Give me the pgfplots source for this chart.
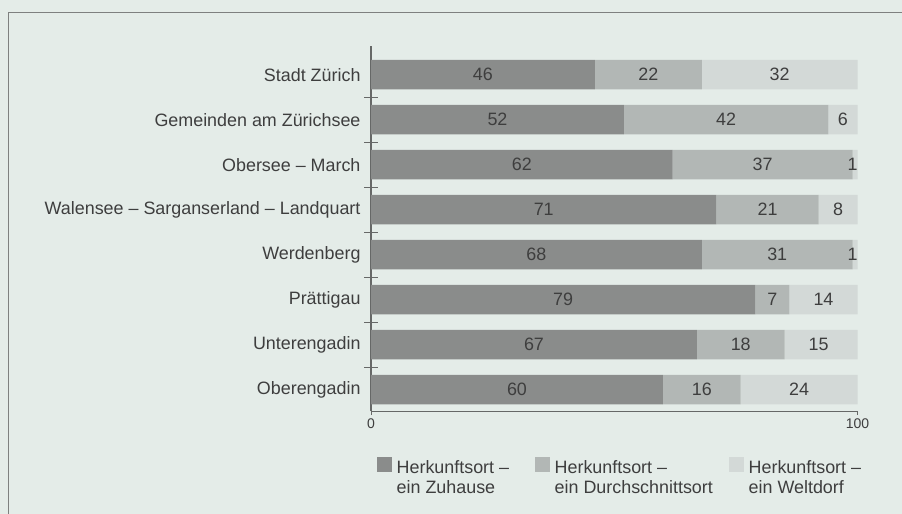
\documentclass[border=0pt]{standalone}
\usepackage{fontspec}
\setmainfont{Liberation Sans}
\usepackage{pgfplots}
\pgfplotsset{compat=1.18}
\definecolor{bgc}{HTML}{E4ECE8}
\definecolor{framec}{HTML}{7E807F}
\definecolor{darkbar}{HTML}{8A8C8B}
\definecolor{midbar}{HTML}{B2B7B5}
\definecolor{lightbar}{HTML}{D3D9D7}
\definecolor{txt}{HTML}{3E3E3E}
\definecolor{axc}{HTML}{666867}
\begin{document}
\begin{tikzpicture}
\fill[bgc] (0,0) rectangle (902bp,-514bp);
\useasboundingbox (0,0) rectangle (902bp,-514bp);
\draw[framec, line width=1.2bp] (8.5bp,-514bp) -- (8.5bp,-12.5bp) -- (902bp,-12.5bp);
\begin{axis}[
  at={(371bp,-411bp)}, anchor=south west,
  scale only axis, width=486.5bp, height=365bp,
  xbar stacked, bar width=29.5bp,
  xmin=0, xmax=100, ymin=-0.478, ymax=7.638,
  axis x line*=bottom, axis y line*=left,
  x axis line style={-, draw=axc, line width=0.9bp},
  y axis line style={-, draw=axc, line width=1.1bp},
  tick align=outside, major tick length=4bp,
  xtick={0,100}, xticklabels={0,100},
  xtick style={draw=axc, line width=0.9bp},
  xticklabel style={font=\fontsize{14bp}{16bp}\selectfont, text=txt},
  ytick={0,1,2,3,4,5,6,7},
  yticklabels={Oberengadin, Unterengadin, Prättigau, Werdenberg, Walensee – Sarganserland – Landquart, Obersee – March, Gemeinden am Zürichsee, Stadt Zürich},
  ytick style={draw=none},
  yticklabel style={font=\fontsize{17.9bp}{20bp}\selectfont, text=txt, xshift=-3bp},
  /pgf/number format/assume math mode=true,
  legend columns=3,
  legend style={at={(0.0113,-0.126)}, anchor=north west, draw=none, fill=none, inner sep=0pt, column sep=0pt,
    /tikz/every odd column/.append style={column sep=5bp},
    cells={anchor=base west}, nodes={inner sep=0pt, text=txt}},
  legend image code/.code={\fill[#1, draw=none] (0bp,1bp) rectangle (15bp,16bp);},
]
\addplot[fill=darkbar, draw=none] coordinates {(60,0) (67,1) (79,2) (68,3) (71,4) (62,5) (52,6) (46,7)};
\addlegendentry{\parbox[t]{138bp}{\fontsize{17.9bp}{20bp}\selectfont Herkunftsort –\\ein Zuhause}}
\addplot[fill=midbar, draw=none] coordinates {(16,0) (18,1) (7,2) (31,3) (21,4) (37,5) (42,6) (22,7)};
\addlegendentry{\parbox[t]{174bp}{\fontsize{17.9bp}{20bp}\selectfont Herkunftsort –\\ein Durchschnittsort}}
\addplot[fill=lightbar, draw=none] coordinates {(24,0) (15,1) (14,2) (1,3) (8,4) (1,5) (6,6) (32,7)};
\addlegendentry{\parbox[t]{150bp}{\fontsize{17.9bp}{20bp}\selectfont Herkunftsort –\\ein Weltdorf}}
\end{axis}
\begin{axis}[
  at={(371bp,-411bp)}, anchor=south west,
  scale only axis, width=486.5bp, height=365bp,
  xmin=0, xmax=100, ymin=-0.478, ymax=7.638,
  hide x axis,
  axis y line*=left, y axis line style={draw=none},
  ytick={0.5,1.5,2.5,3.5,4.5,5.5,6.5}, yticklabels={},
  tick align=center, major tick length=14bp,
  ytick style={draw=axc, line width=0.9bp},
]
\addplot[only marks, mark=none, point meta=explicit symbolic,
  nodes near coords, every node near coord/.style={anchor=center, text=txt, font=\fontsize{17.9bp}{20bp}\selectfont}]
  coordinates {
  (30,0)[60] (68,0)[16] (88,0)[24]
  (33.5,1)[67] (76,1)[18] (92,1)[15]
  (39.5,2)[79] (82.5,2)[7] (93,2)[14]
  (34,3)[68] (83.5,3)[31] (99,3)[1]
  (35.5,4)[71] (81.5,4)[21] (96,4)[8]
  (31,5)[62] (80.5,5)[37] (99,5)[1]
  (26,6)[52] (73,6)[42] (97,6)[6]
  (23,7)[46] (57,7)[22] (84,7)[32]
  };
\end{axis}
\end{tikzpicture}
\end{document}
